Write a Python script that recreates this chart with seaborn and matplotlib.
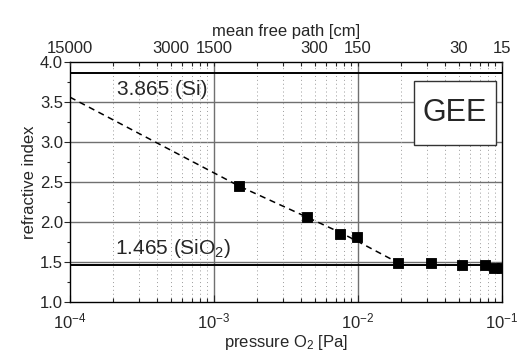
import numpy as np
import pandas as pd
import matplotlib
matplotlib.use("Agg")
import matplotlib.pyplot as plt
import seaborn as sns
from matplotlib.ticker import MultipleLocator, NullFormatter, FixedLocator, FormatStrFormatter
from matplotlib.patches import Rectangle

# ---- data ----
pressure = [0.00149, 0.00443, 0.0075, 0.0099, 0.019, 0.032, 0.053, 0.076, 0.088, 0.100]
n_index = [2.45, 2.06, 1.85, 1.81, 1.49, 1.49, 1.46, 1.46, 1.43, 1.43]
fit_p = [1e-4, 0.00149, 0.00443, 0.0075, 0.0099, 0.019]
fit_n = [3.56, 2.45, 2.06, 1.87, 1.76, 1.49]
n_si = 3.865
n_sio2 = 1.465
mfp_labels = [15000, 3000, 1500, 300, 150, 30, 15]

sns.set_style("white")
plt.rcParams['font.family'] = ['Liberation Sans', 'DejaVu Sans']
plt.rcParams['mathtext.fontset'] = 'custom'
plt.rcParams['mathtext.rm'] = 'Liberation Sans'
plt.rcParams['mathtext.it'] = 'Liberation Sans'

fig = plt.figure(figsize=(5.22, 3.56), dpi=100)
ax = fig.add_axes([70/522, 1-302/356, 432/522, 240/356])

df = pd.DataFrame({"p": pressure, "n": n_index})
dfit = pd.DataFrame({"p": fit_p, "n": fit_n})

ax.set_xscale("log")
ax.set_xlim(1e-4, 1e-1)
ax.set_ylim(1.0, 4.0)

# grid
for y in np.arange(1.5, 4.0, 0.5):
    ax.axhline(y, color="#707070", lw=1.0, zorder=0)
for x in [1e-3, 1e-2]:
    ax.axvline(x, color="#707070", lw=1.0, zorder=0)
minors = [m * 10.0**e for e in (-4, -3, -2) for m in range(2, 10)]
for x in minors:
    ax.axvline(x, color="#9a9a9a", lw=0.7, ls=(0, (1, 3)), zorder=0)

ax.axhline(n_si, color="black", lw=1.4, zorder=1)
ax.axhline(n_sio2, color="black", lw=1.4, zorder=1)

sns.lineplot(data=dfit, x="p", y="n", ax=ax, color="black", lw=1.1,
             linestyle=(0, (4, 3)), zorder=2, sort=False)
sns.scatterplot(data=df, x="p", y="n", ax=ax, marker="s", s=60, color="black",
                edgecolor="black", zorder=3)

ax.set_xlabel("pressure O$_2$ [Pa]", fontsize=12, labelpad=1)
ax.set_ylabel("refractive index", fontsize=12, labelpad=2)

ax.xaxis.set_major_locator(FixedLocator([1e-4, 1e-3, 1e-2, 1e-1]))
ax.xaxis.set_minor_locator(FixedLocator(minors))
ax.xaxis.set_minor_formatter(NullFormatter())
ax.set_xticklabels(["10$^{-4}$", "10$^{-3}$", "10$^{-2}$", "10$^{-1}$"])
ax.yaxis.set_major_locator(MultipleLocator(0.5))
ax.yaxis.set_minor_locator(MultipleLocator(0.25))
ax.yaxis.set_major_formatter(FormatStrFormatter("%.1f"))

ax.tick_params(axis="x", which="major", direction="in", length=5, width=0.8,
               labelsize=12, pad=7, bottom=True)
ax.tick_params(axis="x", which="minor", direction="in", length=3, width=0.8, bottom=True)
ax.tick_params(axis="y", which="major", direction="out", length=4, width=0.8,
               labelsize=12, pad=1, left=True)
ax.tick_params(axis="y", which="minor", direction="out", length=2.5, width=0.8, left=True)

for s in ax.spines.values():
    s.set_color("black")
    s.set_linewidth(1.0)

# top axis: mean free path
ax2 = ax.twiny()
ax2.set_xscale("log")
ax2.set_xlim(ax.get_xlim())
ax2.xaxis.set_major_locator(FixedLocator([1.5 / m for m in mfp_labels]))
ax2.set_xticklabels([str(m) for m in mfp_labels])
ax2.xaxis.set_minor_locator(FixedLocator(minors))
ax2.xaxis.set_minor_formatter(NullFormatter())
ax2.tick_params(axis="x", which="major", direction="in", length=3, width=0.8,
                labelsize=12, pad=4, top=True)
ax2.tick_params(axis="x", which="minor", direction="in", length=3, width=0.8, top=True)
ax2.set_xlabel("mean free path [cm]", fontsize=12, labelpad=4)
for s in ax2.spines.values():
    s.set_visible(False)

ax.text(0.108, 3.66, "3.865 (Si)", fontsize=15, ha="left", va="center",
        transform=ax.get_yaxis_transform())
ax.text(0.104, 1.675, "1.465 (SiO$_2$)", fontsize=15, ha="left", va="center",
        transform=ax.get_yaxis_transform())
ax.add_patch(Rectangle((0.796, 2.96), 0.19, 0.80, transform=ax.get_yaxis_transform(),
                       fc="white", ec="#333333", lw=1.0, zorder=4))
ax.text(0.8905, 3.36, "GEE", fontsize=22, ha="center", va="center",
        transform=ax.get_yaxis_transform(), zorder=5)

fig.savefig("out.png", dpi=100)
